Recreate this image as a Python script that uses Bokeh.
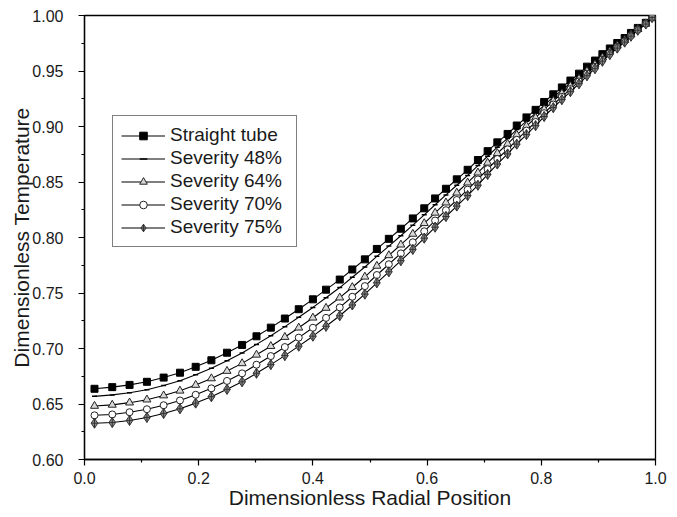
from bokeh.plotting import figure
from bokeh.models import Legend, LegendItem, FixedTicker, NumeralTickFormatter
from bokeh.embed import file_html
from bokeh.resources import INLINE

# Dimensionless radial position (shared grid of all series)
radial = [0.0175, 0.0486, 0.0789, 0.1093, 0.1386, 0.1672, 0.1947, 0.2222, 0.2496, 0.2760,
          0.3012, 0.3263, 0.3509, 0.3752, 0.4000, 0.4230, 0.4470, 0.4690, 0.4910, 0.5120,
          0.5330, 0.5540, 0.5750, 0.5950, 0.6140, 0.6330, 0.6520, 0.6710, 0.6890, 0.7060,
          0.7230, 0.7410, 0.7570, 0.7740, 0.7900, 0.8050, 0.8210, 0.8360, 0.8510, 0.8660,
          0.8800, 0.8940, 0.9070, 0.9200, 0.9330, 0.9460, 0.9570, 0.9690, 0.9830, 0.9940]

straight_tube = [0.6637, 0.6652, 0.6672, 0.6700, 0.6738, 0.6782, 0.6835, 0.6894, 0.6962, 0.7032,
                 0.7110, 0.7188, 0.7270, 0.7354, 0.7443, 0.7530, 0.7621, 0.7712, 0.7803, 0.7897,
                 0.7988, 0.8079, 0.8172, 0.8263, 0.8352, 0.8439, 0.8524, 0.8610, 0.8698, 0.8778,
                 0.8857, 0.8933, 0.9009, 0.9082, 0.9150, 0.9221, 0.9290, 0.9352, 0.9414, 0.9476,
                 0.9539, 0.9594, 0.9652, 0.9703, 0.9752, 0.9797, 0.9843, 0.9888, 0.9934, 0.9985]

severity_48 = [0.6569, 0.6582, 0.6602, 0.6629, 0.6667, 0.6710, 0.6763, 0.6822, 0.6889, 0.6959,
               0.7037, 0.7115, 0.7197, 0.7281, 0.7370, 0.7457, 0.7549, 0.7642, 0.7734, 0.7830,
               0.7923, 0.8016, 0.8111, 0.8204, 0.8295, 0.8384, 0.8471, 0.8559, 0.8648, 0.8732,
               0.8814, 0.8893, 0.8972, 0.9048, 0.9119, 0.9192, 0.9264, 0.9328, 0.9392, 0.9456,
               0.9521, 0.9578, 0.9638, 0.9691, 0.9742, 0.9789, 0.9836, 0.9883, 0.9932, 0.9984]

severity_64 = [0.6482, 0.6492, 0.6512, 0.6539, 0.6576, 0.6619, 0.6671, 0.6730, 0.6797, 0.6866,
               0.6943, 0.7021, 0.7103, 0.7187, 0.7277, 0.7365, 0.7458, 0.7552, 0.7646, 0.7744,
               0.7839, 0.7935, 0.8032, 0.8128, 0.8222, 0.8314, 0.8403, 0.8494, 0.8584, 0.8673,
               0.8759, 0.8843, 0.8925, 0.9004, 0.9079, 0.9155, 0.9230, 0.9297, 0.9364, 0.9430,
               0.9498, 0.9557, 0.9620, 0.9675, 0.9729, 0.9778, 0.9828, 0.9877, 0.9928, 0.9983]

severity_70 = [0.6398, 0.6406, 0.6426, 0.6453, 0.6489, 0.6532, 0.6583, 0.6641, 0.6708, 0.6776,
               0.6854, 0.6932, 0.7013, 0.7098, 0.7187, 0.7276, 0.7370, 0.7466, 0.7562, 0.7662,
               0.7759, 0.7857, 0.7957, 0.8056, 0.8153, 0.8246, 0.8338, 0.8431, 0.8523, 0.8616,
               0.8707, 0.8794, 0.8880, 0.8963, 0.9041, 0.9120, 0.9198, 0.9267, 0.9337, 0.9406,
               0.9476, 0.9538, 0.9603, 0.9661, 0.9717, 0.9769, 0.9820, 0.9872, 0.9926, 0.9982]

severity_75 = [0.6327, 0.6333, 0.6352, 0.6379, 0.6415, 0.6457, 0.6508, 0.6566, 0.6632, 0.6700,
               0.6777, 0.6855, 0.6936, 0.7021, 0.7111, 0.7200, 0.7295, 0.7392, 0.7490, 0.7592,
               0.7691, 0.7791, 0.7893, 0.7994, 0.8093, 0.8189, 0.8283, 0.8378, 0.8471, 0.8568,
               0.8662, 0.8753, 0.8841, 0.8927, 0.9008, 0.9090, 0.9170, 0.9242, 0.9314, 0.9385,
               0.9457, 0.9521, 0.9588, 0.9648, 0.9706, 0.9760, 0.9813, 0.9867, 0.9923, 0.9981]

series_labels = ["Straight tube", "Severity 48%", "Severity 64%", "Severity 70%", "Severity 75%"]
x_ticks = [0.0, 0.2, 0.4, 0.6, 0.8, 1.0]
x_minor = [0.1, 0.3, 0.5, 0.7, 0.9]
y_ticks = [0.60, 0.65, 0.70, 0.75, 0.80, 0.85, 0.90, 0.95, 1.00]
y_minor = [0.625, 0.675, 0.725, 0.775, 0.825, 0.875, 0.925, 0.975]

FONT = "Liberation Sans"

p = figure(width=677, height=517, x_range=(0, 1), y_range=(0.6, 1.0),
           output_backend="svg", toolbar_location=None,
           min_border_left=84, min_border_right=22, min_border_top=15, min_border_bottom=58)
p.xgrid.visible = False
p.ygrid.visible = False
p.outline_line_color = "black"
p.outline_line_width = 1.3
p.background_fill_color = "white"
p.border_fill_color = "white"

p.xaxis.ticker = FixedTicker(ticks=x_ticks, minor_ticks=x_minor)
p.yaxis.ticker = FixedTicker(ticks=y_ticks, minor_ticks=y_minor)
p.xaxis.formatter = NumeralTickFormatter(format="0.0")
p.yaxis.formatter = NumeralTickFormatter(format="0.00")
for ax in (p.xaxis, p.yaxis):
    ax.axis_line_color = "black"
    ax.axis_line_width = 1.3
    ax.major_tick_line_color = "black"
    ax.minor_tick_line_color = "black"
    ax.major_tick_line_width = 1.2
    ax.minor_tick_line_width = 1.2
    ax.major_tick_in = 0
    ax.major_tick_out = 6
    ax.minor_tick_in = 0
    ax.minor_tick_out = 3
    ax.major_label_text_font = FONT
    ax.major_label_text_font_size = "16px"
    ax.major_label_text_color = "#1a1a1a"
    ax.axis_label_text_font = FONT
    ax.axis_label_text_font_size = "21px"
    ax.axis_label_text_font_style = "normal"
    ax.axis_label_text_color = "#1a1a1a"
p.xaxis.axis_label = "Dimensionless Radial Position"
p.yaxis.axis_label = "Dimensionless Temperature"
p.xaxis.major_label_standoff = 6
p.xaxis.axis_label_standoff = -1
p.yaxis.major_label_standoff = 15
p.yaxis.axis_label_standoff = -4

items = []
# Straight tube: filled squares
l0 = p.line(radial, straight_tube, line_color="black", line_width=1.1)
m0 = p.scatter(radial, straight_tube, marker="square", size=7, fill_color="black", line_color="black")
items.append(LegendItem(label=series_labels[0], renderers=[l0, m0]))
# Severity 48%: plain line with tiny dash marks
l1 = p.line(radial, severity_48, line_color="black", line_width=1.1)
m1 = p.scatter(radial, severity_48, marker="dash", size=5, line_color="black", line_width=1.5)
items.append(LegendItem(label=series_labels[1], renderers=[l1, m1]))
# Severity 64%: triangles, light grey fill
l2 = p.line(radial, severity_64, line_color="black", line_width=1.1)
m2 = p.scatter(radial, severity_64, marker="triangle", size=8, fill_color="#d8d8d8", line_color="#222222", line_width=1)
items.append(LegendItem(label=series_labels[2], renderers=[l2, m2]))
# Severity 70%: open circles
l3 = p.line(radial, severity_70, line_color="black", line_width=1.1)
m3 = p.scatter(radial, severity_70, marker="circle", size=7, fill_color="white", line_color="#222222", line_width=1)
items.append(LegendItem(label=series_labels[3], renderers=[l3, m3]))
# Severity 75%: crossed diamonds, grey fill
l4 = p.line(radial, severity_75, line_color="black", line_width=1.1)
m4 = p.scatter(radial, severity_75, marker="diamond_cross", size=10, fill_color="#8c8c8c", line_color="#333333", line_width=1)
items.append(LegendItem(label=series_labels[4], renderers=[l4, m4]))

legend = Legend(items=items, location=(28, 212))
legend.label_text_font = FONT
legend.label_text_font_size = "19px"
legend.label_text_color = "#1a1a1a"
legend.glyph_width = 44
legend.glyph_height = 19
legend.label_height = 19
legend.label_width = 118
legend.label_standoff = 5
legend.spacing = 1
legend.padding = 8
legend.margin = 0
legend.border_line_color = "black"
legend.border_line_width = 1.2
legend.background_fill_alpha = 1.0
p.add_layout(legend, "center")

open("out.html", "w").write(file_html(p, INLINE))
